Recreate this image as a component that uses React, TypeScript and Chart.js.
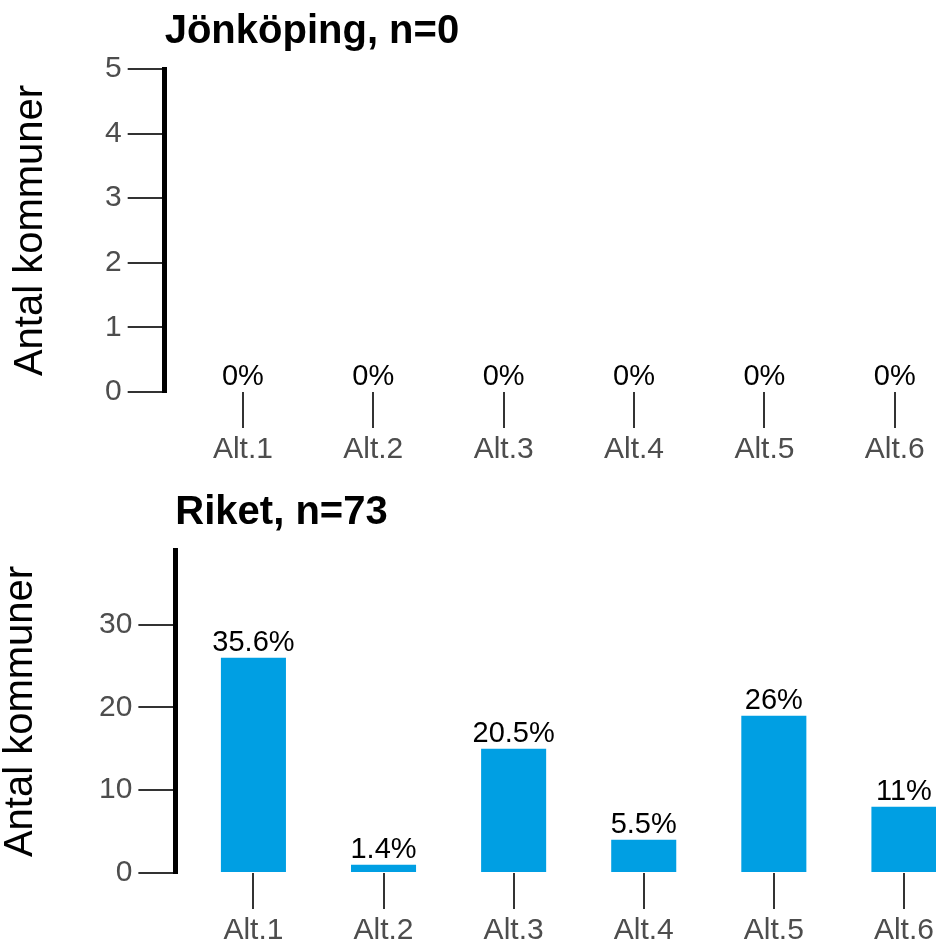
import React, { useEffect, useRef } from "react";
import { Chart, registerables } from "chart.js";

Chart.register(...registerables);

const CATEGORIES = ["Alt.1", "Alt.2", "Alt.3", "Alt.4", "Alt.5", "Alt.6"];
const Y_TITLE = "Antal kommuner";

const TOP_TITLE = "Jönköping, n=0";
const TOP_VALUES = [0, 0, 0, 0, 0, 0];
const TOP_PCT = ["0%", "0%", "0%", "0%", "0%", "0%"];
const TOP_Y_TICKS = [0, 1, 2, 3, 4, 5];
const TOP_Y_MAX = 5;

const BOTTOM_TITLE = "Riket, n=73";
const BOTTOM_VALUES = [26, 1, 15, 4, 19, 8];
const BOTTOM_PCT = ["35.6%", "1.4%", "20.5%", "5.5%", "26%", "11%"];
const BOTTOM_Y_TICKS = [0, 10, 20, 30];
const BOTTOM_Y_MAX = 39;

const FAMILY = '"Liberation Sans", Arial, sans-serif';
const BAR_COLOR = "#009fe3";
const CANVAS_W = 990;
const CANVAS_H = 481;

type PanelProps = {
  title: string;
  values: number[];
  pct: string[];
  yTicks: number[];
  yMax: number;
  padLeft: number;
  padRight: number;
  yTitleGap: number;
  top: number;
};

function Panel({ title, values, pct, yTicks, yMax, padLeft, padRight, yTitleGap, top }: PanelProps) {
  const ref = useRef<HTMLCanvasElement | null>(null);

  useEffect(() => {
    if (!ref.current) return;
    const labelPlugin = {
      id: "pctLabels",
      afterDatasetsDraw(chart: any) {
        const ctx = chart.ctx;
        const meta = chart.getDatasetMeta(0);
        ctx.save();
        ctx.font = `29px ${FAMILY}`;
        ctx.fillStyle = "#000";
        ctx.textAlign = "center";
        ctx.textBaseline = "alphabetic";
        meta.data.forEach((bar: any, i: number) => {
          ctx.fillText(pct[i], bar.x, bar.y - 7);
        });
        ctx.restore();
      },
    };

    const chart = new Chart(ref.current, {
      type: "bar",
      data: {
        datasets: [
          {
            data: values.map((v, i) => ({ x: i + 1, y: v })),
            backgroundColor: BAR_COLOR,
            borderWidth: 0,
            barPercentage: 0.5,
            categoryPercentage: 1,
          },
        ],
      },
      options: {
        animation: false,
        responsive: false,
        devicePixelRatio: 1,
        layout: { padding: { left: padLeft, right: padRight, top: 0, bottom: 9 } },
        plugins: {
          legend: { display: false },
          tooltip: { enabled: false },
          title: {
            display: true,
            text: title,
            align: "start",
            fullSize: false,
            color: "#000",
            font: { family: FAMILY, size: 40, weight: "bold", lineHeight: 1.2 },
            padding: { top: 8, bottom: 13 },
          },
        },
        scales: {
          x: {
            type: "linear",
            min: 0.4,
            max: 6.6,
            offset: false,
            afterBuildTicks: (s: any) => {
              s.ticks = CATEGORIES.map((_, i) => ({ value: i + 1 }));
            },
            ticks: {
              callback: (v: any) => CATEGORIES[Math.round(Number(v)) - 1],
              color: "#4d4d4d",
              font: { family: FAMILY, size: 30 },
              padding: 4,
              maxRotation: 0,
              autoSkip: false,
            },
            grid: {
              display: true,
              offset: false,
              drawOnChartArea: false,
              drawTicks: true,
              tickLength: 36,
              tickColor: "#333",
              tickWidth: 2,
              lineWidth: 2,
            },
            border: { display: false },
          },
          y: {
            type: "linear",
            min: 0,
            max: yMax,
            afterBuildTicks: (s: any) => {
              s.ticks = yTicks.map((v) => ({ value: v }));
            },
            ticks: {
              color: "#4d4d4d",
              font: { family: FAMILY, size: 30 },
              padding: 6,
            },
            grid: {
              display: true,
              drawOnChartArea: false,
              drawTicks: true,
              tickLength: 37,
              tickColor: "#333",
              tickWidth: 2,
              lineWidth: 2,
            },
            border: { display: true, color: "#000", width: 5 },
            title: {
              display: true,
              text: Y_TITLE,
              color: "#000",
              font: { family: FAMILY, size: 40, lineHeight: 1 },
              padding: { top: 0, bottom: yTitleGap },
            },
          },
        },
      },
      plugins: [labelPlugin],
    } as any);
    return () => chart.destroy();
  }, []);

  return (
    <div style={{ position: "absolute", left: 0, top, width: CANVAS_W, height: CANVAS_H }}>
      <canvas ref={ref} width={CANVAS_W} height={CANVAS_H} style={{ width: CANVAS_W, height: CANVAS_H, display: "block" }} />
    </div>
  );
}

export default function App() {
  return (
    <div
      style={{
        position: "fixed",
        left: 0,
        top: 0,
        width: 936,
        height: 943,
        overflow: "hidden",
        background: "#fff",
      }}
    >
      <Panel
        title={TOP_TITLE}
        values={TOP_VALUES}
        pct={TOP_PCT}
        yTicks={TOP_Y_TICKS}
        yMax={TOP_Y_MAX}
        padLeft={11}
        padRight={17}
        yTitleGap={48}
        top={0}
      />
      <Panel
        title={BOTTOM_TITLE}
        values={BOTTOM_VALUES}
        pct={BOTTOM_PCT}
        yTicks={BOTTOM_Y_TICKS}
        yMax={BOTTOM_Y_MAX}
        padLeft={1}
        padRight={8}
        yTitleGap={52}
        top={481}
      />
    </div>
  );
}
